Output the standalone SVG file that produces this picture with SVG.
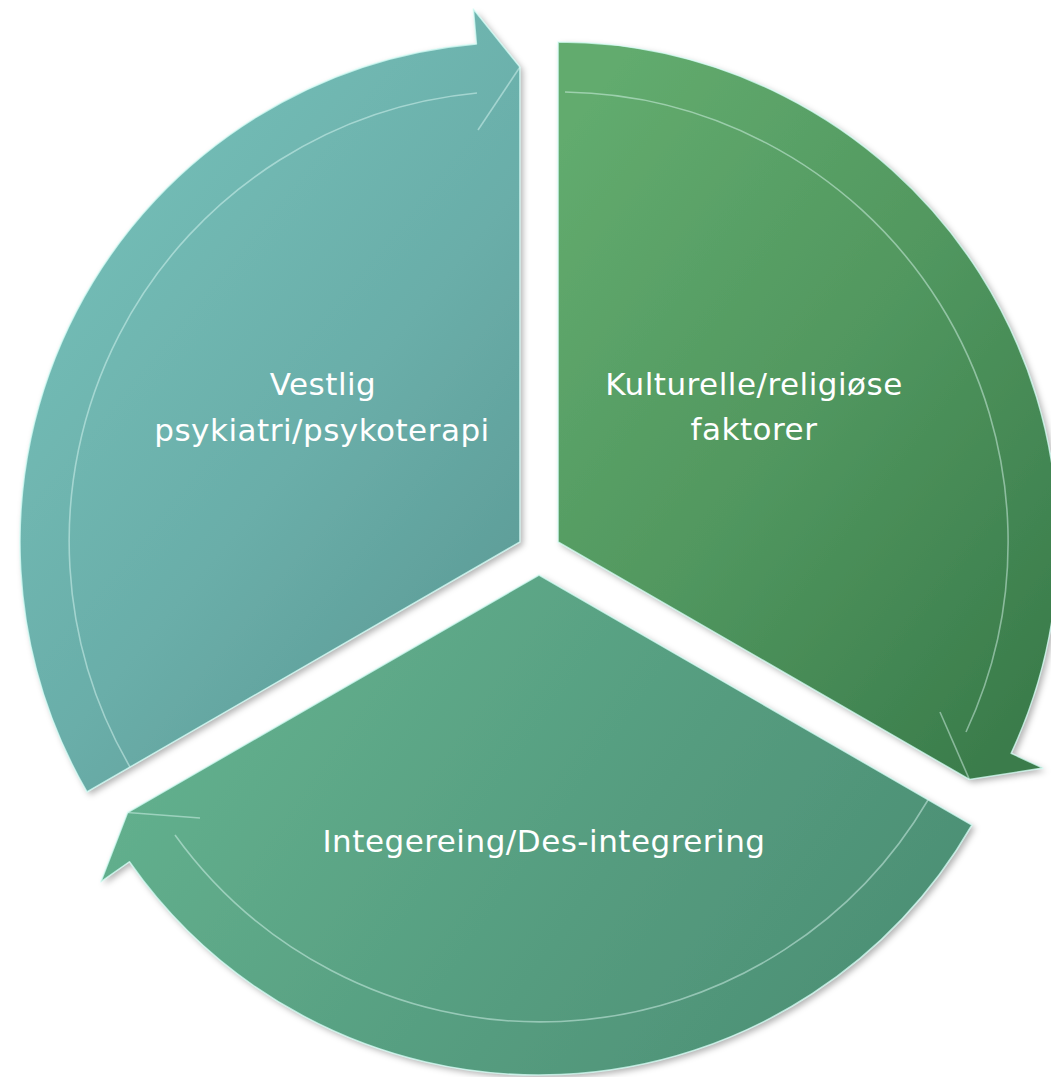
<svg xmlns="http://www.w3.org/2000/svg" width="1051" height="1077" viewBox="0 0 1051 1077">
  <style>
    .lbl { font-family: "DejaVu Sans", Verdana, sans-serif; font-size: 31px; fill: #ffffff; text-anchor: middle; letter-spacing: 0.5px; }
    .edge { fill: none; stroke: #d9fff8; stroke-width: 1.6; stroke-opacity: 0.75; stroke-linejoin: round; }
    .bevel { fill: none; stroke: #e6fffb; stroke-width: 1.6; stroke-opacity: 0.45; }
  </style>
  <defs>
    <linearGradient id="gLeft" x1="0.2" y1="0.05" x2="0.9" y2="0.95">
      <stop offset="0" stop-color="#75c0b9"/>
      <stop offset="0.55" stop-color="#6aaea9"/>
      <stop offset="1" stop-color="#5b9994"/>
    </linearGradient>
    <linearGradient id="gRight" x1="0.1" y1="0.05" x2="0.9" y2="0.95">
      <stop offset="0" stop-color="#62ab6e"/>
      <stop offset="0.5" stop-color="#51975f"/>
      <stop offset="1" stop-color="#3a7c4b"/>
    </linearGradient>
    <linearGradient id="gBottom" x1="0" y1="0.3" x2="1" y2="0.7">
      <stop offset="0" stop-color="#64b28f"/>
      <stop offset="0.6" stop-color="#559c7f"/>
      <stop offset="1" stop-color="#4c8f74"/>
    </linearGradient>
    <filter id="shadow" x="-10%" y="-10%" width="120%" height="120%">
      <feDropShadow dx="3" dy="3" stdDeviation="3" flood-color="#000000" flood-opacity="0.3"/>
    </filter>
  </defs>

  <g id="connectors"/>

  <g id="node-vestlig">
    <path filter="url(#shadow)" fill="url(#gLeft)" d="M519.95,542 L86.95,792 A500,500 0 0 1 476.37,43.9 L473.32,9.04 L519.95,67 Z"/>
    <path class="edge" d="M519.95,542 L86.95,792 A500,500 0 0 1 476.37,43.9 L473.32,9.04 L519.95,67 Z"/>
    <path class="bevel" d="M130,767 A450,450 0 0 1 477,93"/>
    <path class="bevel" d="M519.95,67 L478,130"/>
    <text class="lbl" x="323" y="395">Vestlig</text>
    <text class="lbl" x="322" y="441">psykiatri/psykoterapi</text>
  </g>

  <g id="node-kulturelle">
    <path filter="url(#shadow)" fill="url(#gRight)" d="M558.05,542 L558.05,42 A500,500 0 0 1 1011.2,753.3 L1042.9,768.1 L969.4,779.5 Z"/>
    <path class="edge" d="M558.05,542 L558.05,42 A500,500 0 0 1 1011.2,753.3 L1042.9,768.1 L969.4,779.5 Z"/>
    <path class="bevel" d="M565,92 A450,450 0 0 1 966,732"/>
    <path class="bevel" d="M969.4,779.5 L940,712"/>
    <text class="lbl" x="754" y="395">Kulturelle/religiøse</text>
    <text class="lbl" x="754" y="440">faktorer</text>
  </g>

  <g id="node-integrering">
    <path filter="url(#shadow)" fill="url(#gBottom)" d="M539,575 L972,825 A500,500 0 0 1 129.4,861.8 L100.75,881.9 L127.6,812.5 Z"/>
    <path class="edge" d="M539,575 L972,825 A500,500 0 0 1 129.4,861.8 L100.75,881.9 L127.6,812.5 Z"/>
    <path class="bevel" d="M928,800 A450,450 0 0 1 175,835"/>
    <path class="bevel" d="M127.6,812.5 L200,818"/>
    <text class="lbl" x="544" y="852">Integereing/Des-integrering</text>
  </g>
</svg>
